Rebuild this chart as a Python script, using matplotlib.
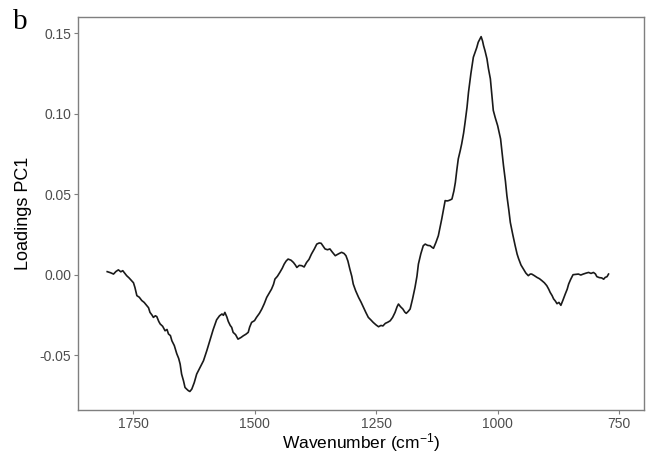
import matplotlib
matplotlib.use("Agg")
import matplotlib.pyplot as plt

plt.rcParams['font.family'] = ['Liberation Sans', 'DejaVu Sans']
plt.rcParams['mathtext.fontset'] = 'custom'
plt.rcParams['mathtext.rm'] = 'Liberation Sans'
plt.rcParams['mathtext.it'] = 'Liberation Sans:italic'

wavenumber = [1803, 1796, 1790, 1785, 1780, 1775, 1771, 1767, 1763, 1758, 1753, 1749, 1746, 1742,
              1737, 1732, 1727, 1722, 1718, 1715, 1711, 1708, 1704, 1701, 1697, 1694, 1689, 1684,
              1680, 1677, 1673, 1670, 1665, 1660, 1656, 1653, 1650, 1646, 1643, 1639, 1636, 1633,
              1629, 1624, 1619, 1612, 1605, 1598, 1592, 1585, 1578, 1572, 1567, 1564, 1561, 1557,
              1554, 1550, 1547, 1544, 1539, 1534, 1528, 1523, 1518, 1513, 1510, 1506, 1500, 1496,
              1490, 1485, 1480, 1475, 1470, 1465, 1461, 1458, 1453, 1448, 1443, 1439, 1435, 1431,
              1425, 1420, 1416, 1413, 1408, 1403, 1398, 1393, 1388, 1383, 1377, 1372, 1367, 1363,
              1359, 1355, 1350, 1345, 1340, 1334, 1327, 1321, 1316, 1312, 1308, 1304, 1300, 1297,
              1292, 1286, 1281, 1276, 1271, 1266, 1261, 1256, 1250, 1245, 1240, 1236, 1231, 1226,
              1221, 1216, 1211, 1207, 1204, 1200, 1195, 1191, 1188, 1184, 1180, 1175, 1170, 1166,
              1163, 1158, 1153, 1149, 1144, 1139, 1135, 1132, 1127, 1122, 1118, 1115, 1111, 1108,
              1104, 1101, 1097, 1094, 1090, 1087, 1084, 1081, 1077, 1074, 1070, 1067, 1063, 1060,
              1055, 1050, 1046, 1043, 1040, 1037, 1034, 1031, 1029, 1026, 1022, 1019, 1015, 1012,
              1009, 1005, 1000, 997, 994, 991, 988, 984, 981, 977, 974, 969, 964, 960, 957, 952,
              947, 942, 937, 933, 930, 925, 919, 914, 909, 904, 899, 895, 892, 888, 885, 881, 878,
              874, 870, 866, 861, 857, 854, 850, 845, 840, 834, 829, 824, 818, 813, 808, 803, 799,
              796, 791, 786, 782, 779, 775, 772]
loadings = [0.0019, 0.0012, 0.0004, 0.0020, 0.0030, 0.0018, 0.0025, 0.0010, -0.0006, -0.0020, -0.0037,
            -0.0050, -0.0079, -0.0130, -0.0140, -0.0160, -0.0172, -0.0190, -0.0205, -0.0234, -0.0250,
            -0.0265, -0.0255, -0.0260, -0.0290, -0.0306, -0.0320, -0.0348, -0.0340, -0.0368, -0.0378,
            -0.0410, -0.0440, -0.0490, -0.0520, -0.0555, -0.0617, -0.0660, -0.0700, -0.0712, -0.0720,
            -0.0725, -0.0710, -0.0670, -0.0617, -0.0575, -0.0534, -0.0470, -0.0410, -0.0340, -0.0280,
            -0.0255, -0.0244, -0.0252, -0.0234, -0.0262, -0.0290, -0.0315, -0.0327, -0.0358, -0.0372,
            -0.0400, -0.0390, -0.0379, -0.0370, -0.0358, -0.0325, -0.0296, -0.0285, -0.0265, -0.0240,
            -0.0213, -0.0180, -0.0141, -0.0115, -0.0089, -0.0060, -0.0027, -0.0010, 0.0014, 0.0040,
            0.0066, 0.0085, 0.0097, 0.0090, 0.0076, 0.0060, 0.0045, 0.0058, 0.0056, 0.0048, 0.0076,
            0.0095, 0.0128, 0.0160, 0.0190, 0.0197, 0.0195, 0.0178, 0.0160, 0.0155, 0.0160, 0.0140,
            0.0118, 0.0130, 0.0139, 0.0132, 0.0118, 0.0085, 0.0035, -0.0010, -0.0058, -0.0100, -0.0141,
            -0.0170, -0.0203, -0.0235, -0.0265, -0.0280, -0.0296, -0.0312, -0.0323, -0.0315, -0.0318,
            -0.0302, -0.0295, -0.0286, -0.0265, -0.0234, -0.0200, -0.0182, -0.0198, -0.0213, -0.0232,
            -0.0240, -0.0228, -0.0213, -0.0150, -0.0079, -0.0010, 0.0066, 0.0130, 0.0180, 0.0190,
            0.0182, 0.0180, 0.0170, 0.0164, 0.0200, 0.0242, 0.0300, 0.0346, 0.0410, 0.0460, 0.0458,
            0.0460, 0.0465, 0.0470, 0.0520, 0.0573, 0.0650, 0.0719, 0.0770, 0.0812, 0.0880, 0.0946,
            0.1040, 0.1132, 0.1250, 0.1350, 0.1385, 0.1410, 0.1443, 0.1460, 0.1478, 0.1450, 0.1422,
            0.1390, 0.1340, 0.1280, 0.1216, 0.1120, 0.1020, 0.0975, 0.0925, 0.0885, 0.0843, 0.0760,
            0.0677, 0.0580, 0.0490, 0.0400, 0.0325, 0.0250, 0.0180, 0.0128, 0.0100, 0.0060, 0.0035,
            0.0010, -0.0006, 0.0004, 0.0004, -0.0005, -0.0017, -0.0025, -0.0037, -0.0050, -0.0068,
            -0.0090, -0.0110, -0.0130, -0.0150, -0.0165, -0.0180, -0.0172, -0.0190, -0.0160, -0.0120,
            -0.0090, -0.0058, -0.0030, 0.0000, 0.0002, 0.0004, -0.0002, 0.0004, 0.0010, 0.0014,
            0.0008, 0.0014, 0.0005, -0.0012, -0.0018, -0.0020, -0.0028, -0.0017, -0.0012, 0.0004]

xticks = [1750, 1500, 1250, 1000, 750]
yticks = [-0.05, 0.00, 0.05, 0.10, 0.15]
ytick_labels = ['-0.05', '0.00', '0.05', '0.10', '0.15']

fig = plt.figure(figsize=(6.47, 4.54), dpi=100)
ax = fig.add_axes([0.1206, 0.0969, 0.8748, 0.8657])
ax.plot(wavenumber, loadings, color='#1a1a1a', lw=1.2)
ax.set_xlim(1863, 699)
ax.set_ylim(-0.084, 0.160)
ax.set_xticks(xticks)
ax.set_xticklabels([str(t) for t in xticks])
ax.set_yticks(yticks)
ax.set_yticklabels(ytick_labels)
for s in ax.spines.values():
    s.set_color('#7f7f7f')
    s.set_linewidth(1.0)
ax.tick_params(axis='both', colors='#7f7f7f', labelcolor='#4d4d4d', labelsize=10,
               length=3, width=0.8, pad=2)
ax.set_xlabel('Wavenumber (cm$^{-1}$)', fontsize=12.5, color='black', labelpad=0)
ax.set_ylabel('Loadings PC1', fontsize=13, color='black')
ax.yaxis.set_label_coords(-0.081, 0.5)
fig.text(0.02, 0.936, 'b', fontsize=21, family=['Liberation Serif'], color='black')
fig.savefig('out.png', dpi=100)
